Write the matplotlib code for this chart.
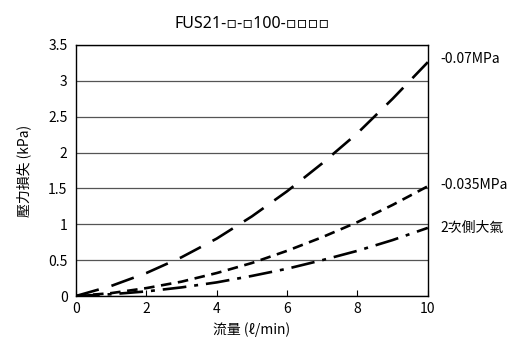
import matplotlib.pyplot as plt

plt.rcParams['font.family'] = ['Noto Sans CJK TC', 'DejaVu Sans']

# Flow (l/min) and pressure loss (kPa)
flow = [0, 1, 2, 3, 4, 5, 6, 7, 8, 9, 10]
loss_070 = [0, 0.14, 0.32, 0.54, 0.80, 1.11, 1.46, 1.85, 2.27, 2.75, 3.26]
loss_035 = [0, 0.04, 0.11, 0.20, 0.32, 0.46, 0.63, 0.82, 1.03, 1.27, 1.53]
loss_atm = [0, 0.025, 0.064, 0.12, 0.19, 0.28, 0.38, 0.50, 0.63, 0.78, 0.95]
labels = ["-0.07MPa", "-0.035MPa", "2次側大氣"]
label_y = [3.3, 1.55, 0.95]

fig = plt.figure(figsize=(5.13, 3.43), dpi=100)
ax = fig.add_axes([0.148, 0.137, 0.686, 0.732])

ax.plot(flow, loss_070, color="black", lw=1.9, dashes=(9, 5))
ax.plot(flow, loss_035, color="black", lw=1.9, dashes=(4, 2.5))
ax.plot(flow, loss_atm, color="black", lw=1.9, dashes=(9, 3, 1.5, 3))

ax.set_xlim(0, 10)
ax.set_ylim(0, 3.5)
ax.set_xticks([0, 2, 4, 6, 8, 10])
ax.set_yticks([0, 0.5, 1, 1.5, 2, 2.5, 3, 3.5])
ax.set_yticklabels(["0", "0.5", "1", "1.5", "2", "2.5", "3", "3.5"])
ax.yaxis.grid(True, color="#555555", lw=0.9)
ax.tick_params(axis="x", direction="in", length=4, labelsize=10, pad=4)
ax.tick_params(axis="y", length=0, labelsize=10, pad=6)
for s in ax.spines.values():
    s.set_linewidth(1.0)

for lab, y in zip(labels, label_y):
    ax.text(10.35, y, lab, fontsize=10, va="center", ha="left", clip_on=False)

ax.set_title("FUS21-▫-▫100-▫▫▫▫", fontsize=11.5, pad=12,
             family=['Noto Sans', 'DejaVu Sans'])
ax.set_xlabel("流量 (ℓ/min)", fontsize=10, labelpad=5)
ax.set_ylabel("壓力損失 (kPa)", fontsize=10, labelpad=12)

fig.savefig("out.png", dpi=100)
